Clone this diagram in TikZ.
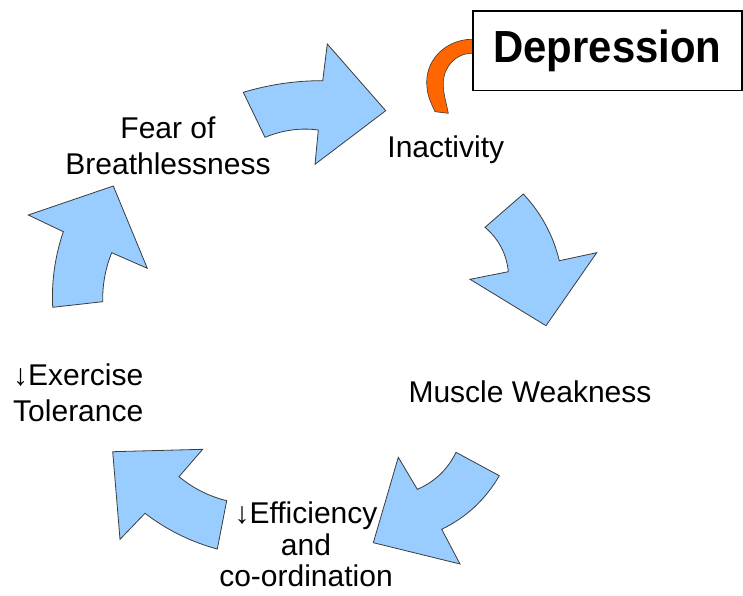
\documentclass[tikz,border=0pt]{standalone}
\usepackage{fontspec}
\setmainfont{Liberation Sans}
\newfontfamily\depfont[FakeStretch=0.93]{Liberation Sans}
\definecolor{arrowblue}{RGB}{153,204,255}
\definecolor{arrowline}{RGB}{60,60,60}
\definecolor{arcorange}{RGB}{255,102,0}
\begin{document}
\begin{tikzpicture}[x=1pt,y=-1pt,
  cyclearrow/.style={fill=arrowblue, draw=arrowline, line width=0.8pt, line join=miter},
  lbl/.style={inner sep=0pt, font=\fontsize{30}{36}\selectfont},
  depbox/.style={draw=black, fill=white, line width=1.5pt, inner sep=0pt,
    font=\depfont\bfseries\fontsize{45}{54}\selectfont}]
\useasboundingbox (0,0) rectangle (743,596);

% block arrows of the cycle
\draw[cyclearrow] (243.3,92.3) .. controls (269.8,84.4) and (296.2,80.6) .. (322.7,80.7) -- (327.3,44)
  -- (385.7,110.7) -- (315,164.3) -- (318.3,130) .. controls (300.6,127.6) and (282.8,130) .. (265,137.3) -- cycle;
\draw[cyclearrow] (523.3,194) -- (485,227.3) .. controls (498.7,239) and (506.5,253.8) .. (508.3,271.7)
  -- (470,279.3) -- (546,325.7) -- (596.7,252.7) -- (559.3,260.7) .. controls (553.2,235.3) and (541.2,213.1) .. (523.3,194) -- cycle;
\draw[cyclearrow] (456,452.3) -- (499.3,475.7) .. controls (485.6,499.4) and (466.4,517.3) .. (441.7,529.3)
  -- (460,564) -- (373.3,542.7) -- (398.3,457.3) -- (417.3,489.3) .. controls (434.8,481.8) and (447.7,469.4) .. (456,452.3) -- cycle;
\draw[cyclearrow] (112.7,451.7) -- (202.7,449.3) -- (179,476.7) .. controls (193.1,488.3) and (209,496.3) .. (226.7,500.7)
  -- (217.3,549) .. controls (190.9,541.9) and (166.8,530) .. (145,513.3) -- (120,539.3) -- cycle;
\draw[cyclearrow] (113.3,186) -- (147.3,268.3) -- (111.7,252.7) .. controls (105.4,268.4) and (102.4,284.7) .. (102.7,301.7)
  -- (52.7,307.3) .. controls (51.4,281.4) and (55,256.2) .. (63.3,231.7) -- (28.3,215) -- cycle;

% orange arc
\draw[fill=arcorange, draw=arrowline, line width=0.6pt]
  (490,39.3) -- (472,39.3) to[out=180,in=90] (426.7,82) to[out=270,in=115] (435,111.7)
  -- (448.3,113.3) to[out=100,in=270] (443.3,83.3) to[out=90,in=180] (472,53.3) -- (490,53.3) -- cycle;

% Depression box
\node (dep) [depbox, minimum width=269.3pt, minimum height=79.7pt] at (607.4,50.85) {Depression};

% labels
\node (fear) [lbl, align=center, anchor=base, font=\fontsize{30}{35.7}\selectfont] at (168,174) {Fear of\\Breathlessness};
\node (inact) [lbl, anchor=base] at (445.8,157.3) {Inactivity};
\node (muscle) [lbl, anchor=base] at (530,402) {Muscle Weakness};
\node (exer) [lbl, align=left, anchor=base west, font=\fontsize{30}{36.7}\selectfont] at (13,421.7) {↓Exercise\\Tolerance};
\node (eff) [lbl, align=center, anchor=base, font=\fontsize{30}{31.7}\selectfont] at (306,586.7) {↓Efficiency\\and\\co-ordination};
\end{tikzpicture}
\end{document}
